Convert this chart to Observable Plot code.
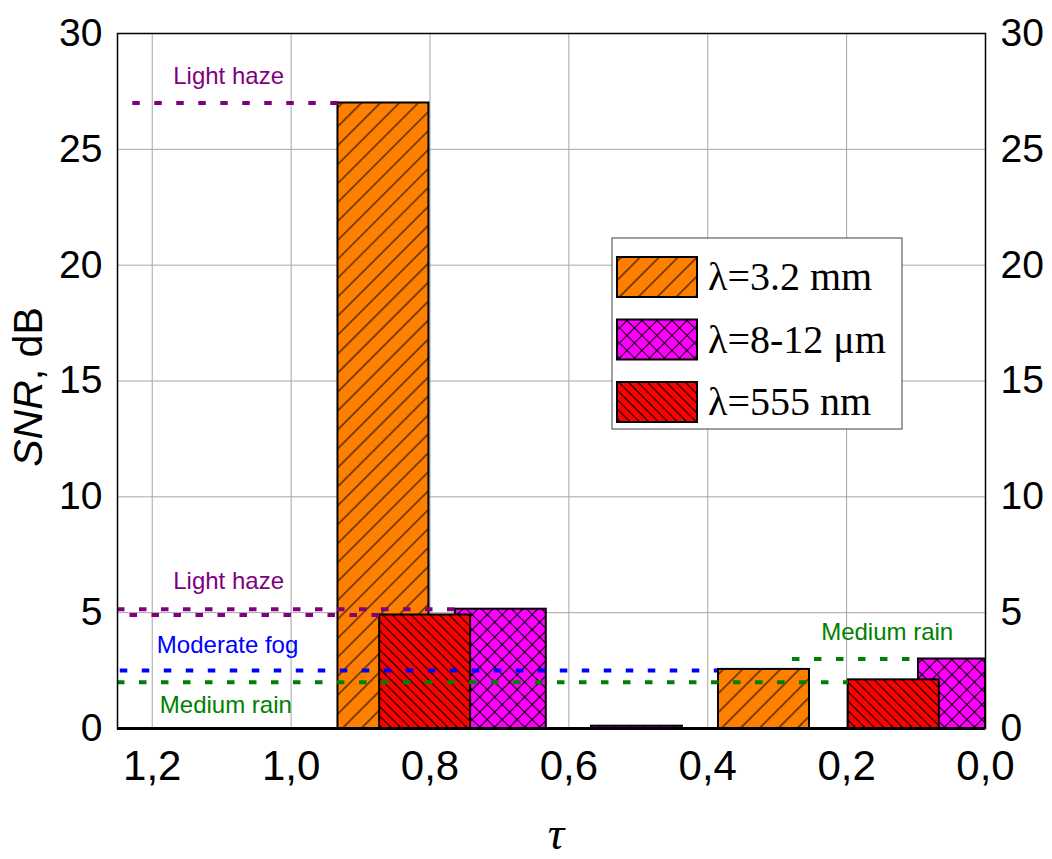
<!DOCTYPE html>
<html>
<head>
<meta charset="utf-8">
<script src="https://cdn.jsdelivr.net/npm/d3@7"></script>
<script src="https://cdn.jsdelivr.net/npm/@observablehq/plot@0.6"></script>
<style>
  body { margin: 0; background: #fff; }
  #chart { width: 1052px; height: 859px; }
</style>
</head>
<body>
<div id="chart"></div>
<script>
// SNR (dB) against optical thickness τ for three wavebands
const seriesNames = ["λ=3.2 mm", "λ=8-12 μm", "λ=555 nm"];
const mmTau = [0.867, 0.319];
const mmSNR = [27.0, 2.55];
const irTau = [0.698, 0.502, 0.031];
const irSNR = [5.15, 0.1, 3.0];
const visTau = [0.807, 0.132];
const visSNR = [4.9, 2.1];
const barWidth = 0.131;

// Weather reference levels (dB) and the τ span each one covers
const levelNames = ["Light haze", "Light haze", "Light haze", "Moderate fog", "Medium rain", "Medium rain"];
const levelSNR = [27.0, 5.15, 4.9, 2.5, 2.0, 3.0];
const levelFrom = [1.228, 1.25, 1.232, 1.246, 1.25, 0.278];
const levelTo = [0.932, 0.764, 0.872, 0.386, 0.197, 0.108];

// Level captions
const captionText = ["Light haze", "Light haze", "Moderate fog", "Medium rain", "Medium rain"];
const captionTau = [1.090, 1.090, 1.0915, 1.094, 0.1416];
const captionSNR = [28.17, 6.37, 3.61, 0.98, 4.17];

const xTicks = [1.2, 1.0, 0.8, 0.6, 0.4, 0.2, 0.0];
const yTicks = [0, 5, 10, 15, 20, 25, 30];

const levelColor = {"Light haze": "#800080", "Moderate fog": "#0000ff", "Medium rain": "#008000"};
const seriesFill = ["url(#hatch-mm)", "url(#hatch-ir)", "url(#hatch-vis)"];

const bars = [
  ...mmTau.map((t, i) => ({series: 0, tau: t, snr: mmSNR[i]})),
  ...irTau.map((t, i) => ({series: 1, tau: t, snr: irSNR[i]})),
  ...visTau.map((t, i) => ({series: 2, tau: t, snr: visSNR[i]}))
];
const levels = levelNames.map((n, i) => ({name: n, snr: levelSNR[i], from: levelFrom[i], to: levelTo[i], color: levelColor[n]}));
const captions = captionText.map((t, i) => ({text: t, tau: captionTau[i], snr: captionSNR[i], color: levelColor[t]}));

const comma = d => d.toFixed(1).replace(".", ",");
const sans = "'Liberation Sans', Arial, sans-serif";
const serif = "'Liberation Serif', 'Times New Roman', serif";

const plot = Plot.plot({
  width: 1052,
  height: 859,
  marginLeft: 117,
  marginRight: 67,
  marginTop: 33,
  marginBottom: 131,
  style: {fontFamily: sans, background: "white", color: "black"},
  x: {domain: [1.25, 0], clamp: true},
  y: {domain: [0, 30]},
  color: {type: "identity"},
  marks: [
    Plot.gridX(xTicks.filter(d => d > 0), {stroke: "#a6a6a6", strokeOpacity: 1, strokeWidth: 1}),
    Plot.gridY(yTicks.filter(d => d > 0 && d < 30), {stroke: "#a6a6a6", strokeOpacity: 1, strokeWidth: 1}),
    // bars: orange first, then magenta, red on top
    ...[0, 1, 2].map(s => Plot.rectY(bars.filter(d => d.series === s), {
      x1: d => d.tau + barWidth / 2,
      x2: d => d.tau - barWidth / 2,
      y1: 0,
      y2: "snr",
      fill: seriesFill[s],
      stroke: "black",
      strokeWidth: 2
    })),
    Plot.ruleY(levels, {
      y: "snr", x1: "from", x2: "to",
      stroke: d => d.color,
      strokeWidth: 4,
      strokeDasharray: "7.5,14.5"
    }),
    Plot.text(captions, {
      x: "tau", y: "snr", text: "text",
      fill: d => d.color,
      fontSize: 24,
      ariaLabel: "caption"
    }),
    Plot.frame({stroke: "black", strokeWidth: 1.5}),
    Plot.ruleY([0], {stroke: "black", strokeWidth: 3}),
    Plot.axisX(xTicks, {tickSize: 0, tickPadding: 22, fontSize: 42, tickFormat: comma, label: null}),
    Plot.axisY(yTicks, {anchor: "left", tickSize: 0, tickPadding: 15, fontSize: 39, label: null}),
    Plot.axisY(yTicks, {anchor: "right", tickSize: 0, tickPadding: 15, fontSize: 39, label: null})
  ]
});

const svg = d3.select(plot);

// hatch patterns shared by bars and legend swatches
const defs = svg.insert("defs", ":first-child");
function hatch(id, color, step, angle, cross, width) {
  const p = defs.append("pattern")
    .attr("id", id)
    .attr("patternUnits", "userSpaceOnUse")
    .attr("width", step).attr("height", step)
    .attr("patternTransform", `rotate(${angle})`);
  p.append("rect").attr("width", step).attr("height", step).attr("fill", color);
  p.append("line").attr("x1", step / 2).attr("x2", step / 2).attr("y1", 0).attr("y2", step)
    .attr("stroke", "black").attr("stroke-width", width);
  if (cross) {
    p.append("line").attr("y1", step / 2).attr("y2", step / 2).attr("x1", 0).attr("x2", step)
      .attr("stroke", "black").attr("stroke-width", width);
  }
}
hatch("hatch-mm", "#ff8000", 13.4, 45, false, 1);
hatch("hatch-ir", "#ff00ff", 10.6, 45, true, 1.1);
hatch("hatch-vis", "#ff0000", 6.7, -45, false, 1.1);

// white boxes behind the level captions
svg.selectAll("g[aria-label='caption'] text").each(function() {
  const b = this.getBBox();
  d3.select(this.parentNode).insert("rect", () => this)
    .attr("x", b.x - 5).attr("y", b.y + 1)
    .attr("width", b.width + 10).attr("height", b.height + 4)
    .attr("fill", "white");
});

// legend
const lg = svg.append("g").attr("transform", "translate(612,238)").attr("text-anchor", "start");
lg.append("rect").attr("width", 290).attr("height", 191)
  .attr("fill", "white").attr("stroke", "#404040").attr("stroke-width", 1);
seriesNames.forEach((name, i) => {
  const y = 19 + i * 62.5;
  lg.append("rect").attr("x", 5).attr("y", y).attr("width", 80).attr("height", 40)
    .attr("fill", seriesFill[i]).attr("stroke", "black").attr("stroke-width", 2);
  lg.append("text").attr("x", 96).attr("y", y + 33)
    .attr("text-anchor", "start")
    .attr("font-family", serif).attr("font-size", 40).attr("fill", "black")
    .text(name);
});

// axis titles
const yTitle = svg.append("text")
  .attr("transform", "translate(42,387) rotate(-90)")
  .attr("text-anchor", "middle")
  .attr("font-family", sans).attr("font-size", 41).attr("fill", "black");
yTitle.append("tspan").attr("font-style", "italic").text("SNR");
yTitle.append("tspan").text(", dB");

svg.append("text")
  .attr("x", 556).attr("y", 849)
  .attr("text-anchor", "middle")
  .attr("font-family", serif).attr("font-style", "italic").attr("font-size", 46)
  .attr("fill", "black")
  .text("τ");

document.getElementById("chart").appendChild(plot);
</script>
</body>
</html>
